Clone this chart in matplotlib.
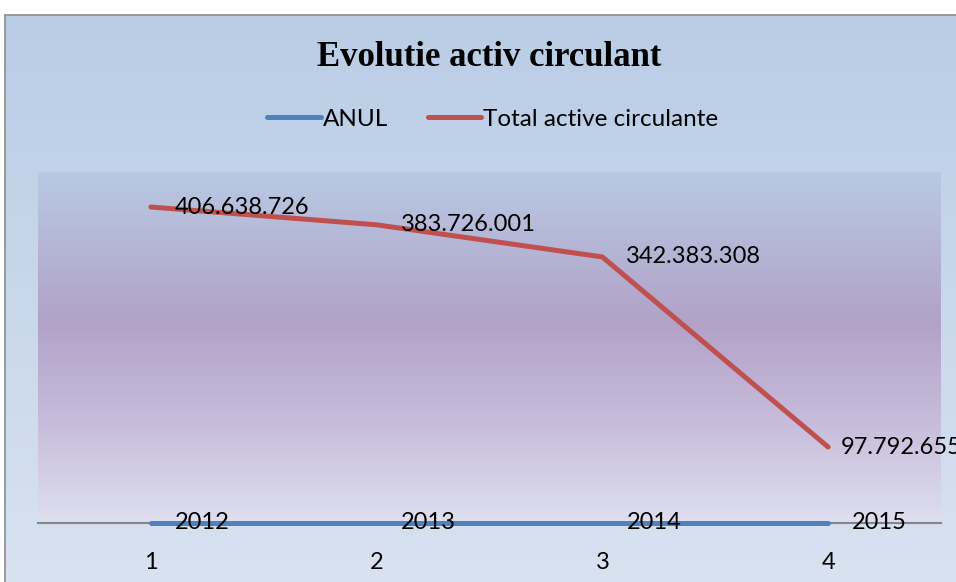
import numpy as np
import matplotlib
matplotlib.use('Agg')
import matplotlib.pyplot as plt
from matplotlib.colors import LinearSegmentedColormap
from matplotlib.patches import Rectangle

categories = [1, 2, 3, 4]
anul = [2012, 2013, 2014, 2015]
total_active = [406638726, 383726001, 342383308, 97792655]
series_names = ['ANUL', 'Total active circulante']

W, H = 956, 582
fig = plt.figure(figsize=(W / 100, H / 100), dpi=100)
fig.patch.set_facecolor('white')

# outer chart area with light blue gradient
bg = fig.add_axes([5 / W, 0, 1, (H - 15) / H], zorder=-2)
bg_cmap = LinearSegmentedColormap.from_list('bg', ['#D8E2F1', '#B9CDE5'])
bg.imshow(np.linspace(0, 1, 256).reshape(-1, 1), cmap=bg_cmap, aspect='auto',
          origin='lower', extent=[0, 1, 0, 1])
bg.set_axis_off()
fig.patches.append(Rectangle((5 / W, -0.01), 1.1, (H - 15) / H + 0.01,
                             transform=fig.transFigure, fill=False,
                             edgecolor='#8C8C8C', lw=1.2, zorder=5))

# plot area
left, right, top, bottom = 38, 941, 172, 523
ax = fig.add_axes([left / W, (H - bottom) / H, (right - left) / W, (bottom - top) / H])
ax.set_facecolor('none')
pa_cmap = LinearSegmentedColormap.from_list(
    'pa', [(0.0, '#DEDFEF'), (0.3, '#C6BBDA'), (0.57, '#B2A2C8'), (1.0, '#B8C9E3')])
ax.imshow(np.linspace(0, 1, 256).reshape(-1, 1), cmap=pa_cmap, aspect='auto',
          origin='lower', extent=[0, 1, 0, 1], transform=ax.transAxes, zorder=0)

font = 'Lato'
ax.plot(categories, anul, color='#4F81BD', lw=3.6, solid_capstyle='round',
        label=series_names[0], zorder=3, clip_on=False)
ax.plot(categories, total_active, color='#C0504D', lw=3.6, solid_capstyle='round',
        solid_joinstyle='round', label=series_names[1], zorder=3, clip_on=False)

def fmt(v):
    return f'{v:,}'.replace(',', '.')

for i, (x, v) in enumerate(zip(categories, total_active)):
    dx = 13 if i == len(categories) - 1 else 24
    ax.annotate(fmt(v), (x, v), xytext=(dx * 0.72, 0), textcoords='offset points',
                va='center', ha='left', fontsize=17, family=font, zorder=4,
                annotation_clip=False)
for x, v in zip(categories, anul):
    ax.annotate(str(v), (x, v), xytext=(24 * 0.72, 0), textcoords='offset points',
                va='center', ha='left', fontsize=17, family=font, zorder=4,
                annotation_clip=False)

ax.set_xlim(0.5, 4.5)
ax.set_ylim(0, 451.7e6)
ax.set_yticks([])
ax.set_xticks(categories)
ax.set_xticklabels([str(c) for c in categories], fontsize=17, family=font)
ax.tick_params(axis='x', length=0, pad=21)
for s in ['top', 'left', 'right']:
    ax.spines[s].set_visible(False)
ax.spines['bottom'].set_color('#868686')
ax.spines['bottom'].set_linewidth(1.5)
ax.spines['bottom'].set_zorder(2)

fig.text(489 / W, 1 - 58 / H, 'Evolutie activ circulant', ha='center', va='center',
         fontsize=25, fontweight='bold', family='Liberation Serif')

handles, labels = ax.get_legend_handles_labels()
fig.legend(handles, labels, loc='center', bbox_to_anchor=(493 / W, 1 - 119 / H),
           ncol=2, frameon=False, prop={'family': font, 'size': 17.5},
           handlelength=2.2, handletextpad=0.1, columnspacing=1.6)

fig.savefig('out.png', dpi=100)
